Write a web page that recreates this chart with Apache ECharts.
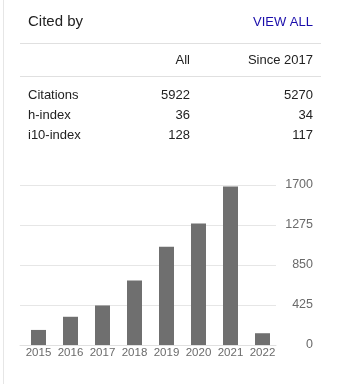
<!DOCTYPE html>
<html>
<head>
<meta charset="utf-8">
<script src="https://cdn.jsdelivr.net/npm/echarts@6/dist/echarts.min.js"></script>
<style>
html,body{margin:0;padding:0;background:#fff;}
#chart{width:344px;height:384px;}
</style>
</head>
<body>
<div id="chart"></div>
<script>
const years = ['2015','2016','2017','2018','2019','2020','2021','2022'];
const citations = [160, 300, 420, 685, 1045, 1290, 1685, 125];
const yMax = 1700;
const yInterval = 425;
const headerTitle = 'Cited by';
const headerLink = 'VIEW ALL';
const columnHeaders = ['All', 'Since 2017'];
const rowLabels = ['Citations', 'h-index', 'i10-index'];
const allValues = ['5922', '36', '128'];
const sinceValues = ['5270', '34', '117'];

const FONT = 'Arial, "Liberation Sans", sans-serif';
const chart = echarts.init(document.getElementById('chart'), null, {renderer: 'canvas'});

const graphics = [
  {type: 'line', shape: {x1: 3.5, y1: 0, x2: 3.5, y2: 384}, style: {stroke: '#e6e6e6', lineWidth: 1}, silent: true},
  {type: 'text', style: {text: headerTitle, x: 28, y: 22, font: '15px ' + FONT, fill: '#222', textVerticalAlign: 'middle'}},
  {type: 'text', style: {text: headerLink, x: 313, y: 22, font: '13px ' + FONT, fill: '#1a0dab', textAlign: 'right', textVerticalAlign: 'middle'}},
  {type: 'line', shape: {x1: 20, y1: 43.5, x2: 321, y2: 43.5}, style: {stroke: '#e0e0e0', lineWidth: 1}, silent: true},
  {type: 'text', style: {text: columnHeaders[0], x: 190, y: 60, font: '13px ' + FONT, fill: '#222', textAlign: 'right', textVerticalAlign: 'middle'}},
  {type: 'text', style: {text: columnHeaders[1], x: 313, y: 60, font: '13px ' + FONT, fill: '#222', textAlign: 'right', textVerticalAlign: 'middle'}},
  {type: 'line', shape: {x1: 20, y1: 76.5, x2: 321, y2: 76.5}, style: {stroke: '#e0e0e0', lineWidth: 1}, silent: true}
];
rowLabels.forEach(function (lab, i) {
  const y = 95 + i * 20;
  graphics.push({type: 'text', style: {text: lab, x: 28, y: y, font: '13px ' + FONT, fill: '#222', textVerticalAlign: 'middle'}});
  graphics.push({type: 'text', style: {text: allValues[i], x: 190, y: y, font: '13px ' + FONT, fill: '#222', textAlign: 'right', textVerticalAlign: 'middle'}});
  graphics.push({type: 'text', style: {text: sinceValues[i], x: 313, y: y, font: '13px ' + FONT, fill: '#222', textAlign: 'right', textVerticalAlign: 'middle'}});
});

chart.setOption({
  animation: false,
  backgroundColor: '#fff',
  textStyle: {fontFamily: FONT},
  graphic: graphics,
  grid: [
    {left: 20, width: 256, top: 185, height: 160},
    {left: 22.5, width: 256, top: 185, height: 160}
  ],
  xAxis: [
    {gridIndex: 0, type: 'category', data: years,
     axisLine: {show: true, lineStyle: {color: '#e0e0e0'}},
     axisTick: {show: false}, axisLabel: {show: false}, splitLine: {show: false}},
    {gridIndex: 1, type: 'category', data: years,
     axisLine: {show: false}, axisTick: {show: false}, splitLine: {show: false},
     axisLabel: {color: '#6a6a6a', fontSize: 11.5, margin: 2, fontFamily: FONT, interval: 0, hideOverlap: false}}
  ],
  yAxis: [
    {gridIndex: 0, type: 'value', position: 'right', min: 0, max: yMax, interval: yInterval,
     axisLine: {show: false}, axisTick: {show: false},
     splitLine: {show: true, lineStyle: {color: '#e6e6e6'}},
     axisLabel: {color: '#6a6a6a', fontSize: 12.5, align: 'right', margin: 37, fontFamily: FONT,
                 formatter: function (v) { return String(v); }}},
    {gridIndex: 1, type: 'value', min: 0, max: yMax, interval: yInterval, show: false}
  ],
  series: [{
    type: 'bar', xAxisIndex: 1, yAxisIndex: 1, data: citations,
    barWidth: 15, itemStyle: {color: '#6f6f6f'}
  }]
});
</script>
</body>
</html>
